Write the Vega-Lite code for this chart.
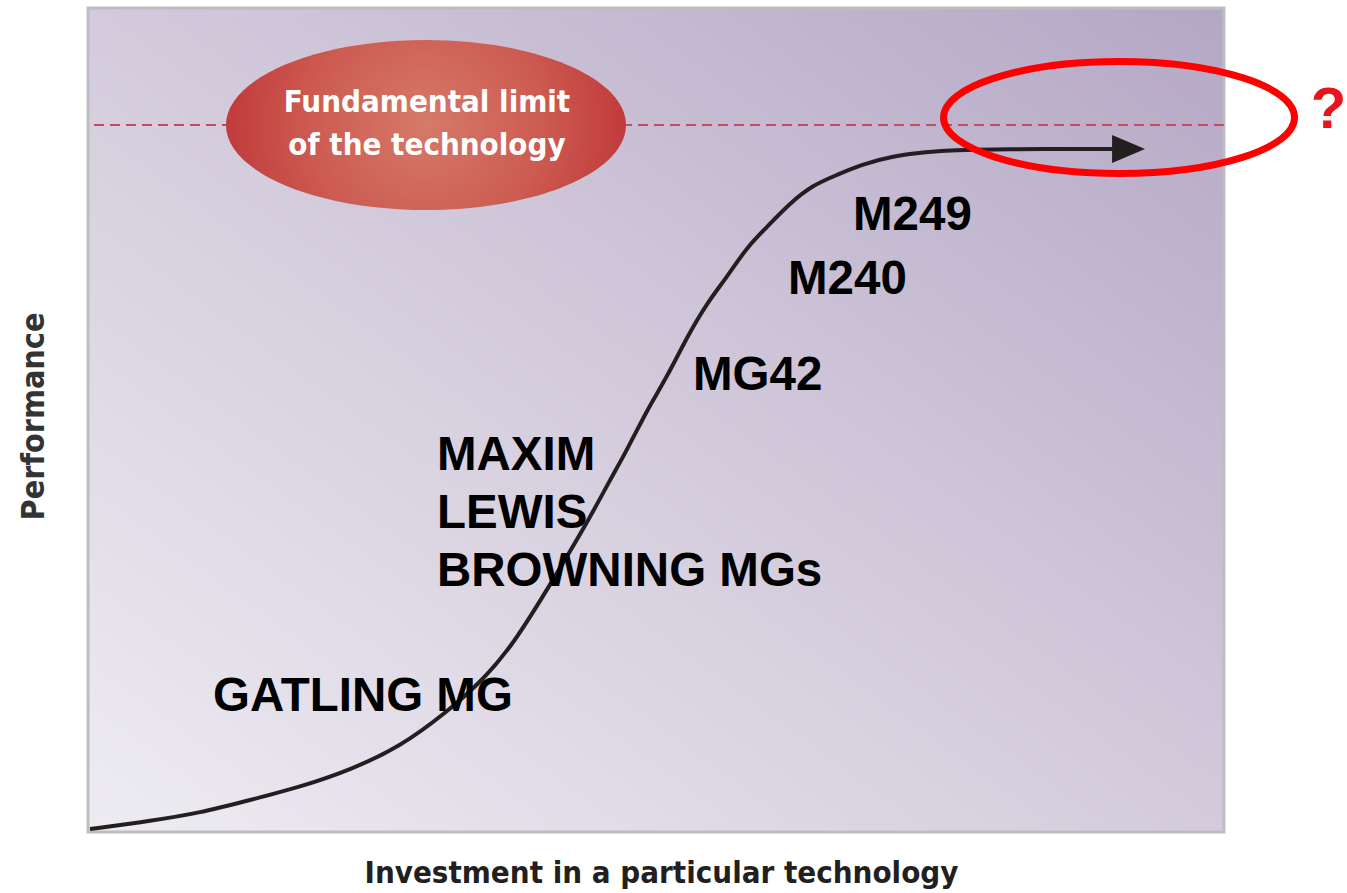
{
  "$schema": "https://vega.github.io/schema/vega-lite/v6.json",
  "width": 1136,
  "height": 824,
  "autosize": {"type": "none"},
  "padding": {"left": 88, "top": 8, "right": 123, "bottom": 61},
  "background": "#ffffff",
  "config": {
    "view": {"stroke": null},
    "axis": {"domain": false, "ticks": false, "labels": false, "grid": false,
      "titleFont": "Liberation Sans Narrow, DejaVu Sans Condensed, sans-serif",
      "titleFontWeight": "bold", "titleColor": "#231f20"},
    "axisX": {"titleX": 573, "titleY": 50, "titleBaseline": "alphabetic", "titleAlign": "center", "titleFontSize": 31},
    "axisY": {"titleX": -45, "titleY": 408, "titleAngle": 270, "titleBaseline": "alphabetic", "titleAlign": "center", "titleColor": "#333333", "titleFontSize": 32}
  },
  "datasets": {
    "bg": [{"x": 0, "x2": 100, "y": 0, "y2": 100}],
    "limit": [{"y": 85.8}],
    "ellipse": [{"x": 29.75, "y": 85.8}],
    "ellipseText": [
      {"x": 29.84, "y": 87.38, "text": "Fundamental limit"},
      {"x": 29.84, "y": 82.16, "text": "of the technology"}
    ],
    "curve": [
      {"x": 0.18, "y": 0.36}, {"x": 5.46, "y": 1.33}, {"x": 9.86, "y": 2.31}, {"x": 14.26, "y": 3.88},
      {"x": 18.66, "y": 5.46}, {"x": 23.06, "y": 7.52}, {"x": 27.46, "y": 10.32}, {"x": 31.6, "y": 14.56},
      {"x": 34.77, "y": 18.45}, {"x": 37.41, "y": 22.69}, {"x": 40.93, "y": 30.58}, {"x": 43.93, "y": 37.5},
      {"x": 45.95, "y": 42.72}, {"x": 47.45, "y": 46.36}, {"x": 49.21, "y": 51.21}, {"x": 50.97, "y": 55.22},
      {"x": 52.73, "y": 60.07}, {"x": 54.49, "y": 64.2}, {"x": 56.25, "y": 67.35}, {"x": 58.01, "y": 70.99},
      {"x": 59.77, "y": 73.42}, {"x": 61.8, "y": 76.33}, {"x": 63.82, "y": 78.52}, {"x": 65.93, "y": 79.73},
      {"x": 67.96, "y": 80.95}, {"x": 70.86, "y": 82.04}, {"x": 73.86, "y": 82.52},
      {"x": 76.14, "y": 82.77}, {"x": 80.28, "y": 82.89}, {"x": 90.4, "y": 82.89}
    ],
    "arrow": [{"x": 91.6, "y": 82.89}],
    "labels": [
      {"x": 11.0, "y": 14.68, "text": "GATLING MG"},
      {"x": 30.72, "y": 43.93, "text": "MAXIM"},
      {"x": 30.72, "y": 36.89, "text": "LEWIS"},
      {"x": 30.72, "y": 29.85, "text": "BROWNING MGs"},
      {"x": 53.26, "y": 53.64, "text": "MG42"},
      {"x": 61.62, "y": 65.29, "text": "M240"},
      {"x": 67.34, "y": 73.06, "text": "M249"}
    ],
    "ring": [{"x": 90.76, "y": 86.71}],
    "question": [{"x": 109.2, "y": 85.44, "text": "?"}]
  },
  "layer": [
    {
      "data": {"name": "bg"},
      "mark": {"type": "rect", "stroke": "#bdbdbd", "strokeWidth": 3,
        "fill": {"gradient": "linear", "x1": 0, "y1": 1, "x2": 1, "y2": 0,
          "stops": [{"offset": 0, "color": "#eeecf2"}, {"offset": 0.5, "color": "#d3cbdc"}, {"offset": 1, "color": "#b4a7c5"}]}},
      "encoding": {
        "x": {"field": "x", "type": "quantitative", "scale": {"domain": [0, 100], "nice": false, "zero": false}, "title": "Investment in a particular technology"},
        "x2": {"field": "x2"},
        "y": {"field": "y", "type": "quantitative", "scale": {"domain": [0, 100], "nice": false, "zero": false}, "title": "Performance"},
        "y2": {"field": "y2"}
      }
    },
    {
      "data": {"name": "limit"},
      "mark": {"type": "rule", "color": "#c44e58", "strokeWidth": 2, "strokeDash": [10, 6]},
      "encoding": {
        "y": {"field": "y", "type": "quantitative", "title": "Performance"}
      }
    },
    {
      "data": {"name": "ellipse"},
      "mark": {"type": "point", "filled": true, "opacity": 1, "size": 160000,
        "shape": "M -1 0 A 1 0.425 0 1 1 1 0 A 1 0.425 0 1 1 -1 0 Z",
        "fill": {"gradient": "radial", "x1": 0.5, "y1": 0.5, "r1": 0, "x2": 0.5, "y2": 0.5, "r2": 0.5,
          "stops": [{"offset": 0, "color": "#d57a69"}, {"offset": 0.6, "color": "#cc5a50"}, {"offset": 1, "color": "#c13b3c"}]}},
      "encoding": {
        "x": {"field": "x", "type": "quantitative", "title": "Investment in a particular technology"},
        "y": {"field": "y", "type": "quantitative", "title": "Performance"}
      }
    },
    {
      "data": {"name": "ellipseText"},
      "mark": {"type": "text", "font": "Liberation Sans Narrow, DejaVu Sans Condensed, sans-serif", "fontSize": 31, "fontWeight": "bold", "color": "#ffffff", "align": "center", "baseline": "alphabetic"},
      "encoding": {
        "x": {"field": "x", "type": "quantitative", "title": "Investment in a particular technology"},
        "y": {"field": "y", "type": "quantitative", "title": "Performance"},
        "text": {"field": "text"}
      }
    },
    {
      "data": {"name": "curve"},
      "mark": {"type": "line", "color": "#231f20", "strokeWidth": 4, "interpolate": "basis"},
      "encoding": {
        "x": {"field": "x", "type": "quantitative", "title": "Investment in a particular technology"},
        "y": {"field": "y", "type": "quantitative", "title": "Performance"}
      }
    },
    {
      "data": {"name": "arrow"},
      "mark": {"type": "point", "filled": true, "opacity": 1, "color": "#231f20", "size": 1089,
        "shape": "M -1 -0.85 L 1 0 L -1 0.85 Z"},
      "encoding": {
        "x": {"field": "x", "type": "quantitative", "title": "Investment in a particular technology"},
        "y": {"field": "y", "type": "quantitative", "title": "Performance"}
      }
    },
    {
      "data": {"name": "labels"},
      "mark": {"type": "text", "font": "Liberation Sans, Arial, sans-serif", "fontSize": 47.5, "fontWeight": "bold", "color": "#000000", "align": "left", "baseline": "alphabetic"},
      "encoding": {
        "x": {"field": "x", "type": "quantitative", "title": "Investment in a particular technology"},
        "y": {"field": "y", "type": "quantitative", "title": "Performance"},
        "text": {"field": "text"}
      }
    },
    {
      "data": {"name": "ring"},
      "mark": {"type": "point", "filled": false, "opacity": 1, "stroke": "#ff0000", "strokeWidth": 7, "size": 123201,
        "shape": "M -1 0 A 1 0.319 0 1 1 1 0 A 1 0.319 0 1 1 -1 0 Z"},
      "encoding": {
        "x": {"field": "x", "type": "quantitative", "title": "Investment in a particular technology"},
        "y": {"field": "y", "type": "quantitative", "title": "Performance"}
      }
    },
    {
      "data": {"name": "question"},
      "mark": {"type": "text", "font": "Liberation Sans, Arial, sans-serif", "fontSize": 58, "fontWeight": "bold", "color": "#e8141b", "align": "center", "baseline": "alphabetic"},
      "encoding": {
        "x": {"field": "x", "type": "quantitative", "title": "Investment in a particular technology"},
        "y": {"field": "y", "type": "quantitative", "title": "Performance"},
        "text": {"field": "text"}
      }
    }
  ]
}
